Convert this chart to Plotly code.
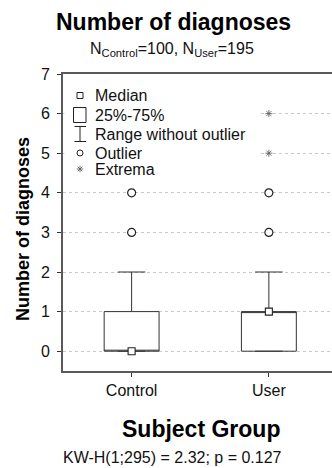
import math
import plotly.graph_objects as go

# ---- data ----
categories = ["Control", "User"]
q1 = [0, 0]
medians = [0, 1]
q3 = [1, 1]
lower_fence = [0, 0]
upper_fence = [2, 2]
outlier_x = ["Control", "Control", "User", "User"]
outlier_y = [3, 4, 3, 4]
extrema_x = ["User", "User"]
extrema_y = [5, 6]
y_ticks = [0, 1, 2, 3, 4, 5, 6, 7]
legend_labels = ["Median", "25%-75%", "Range without outlier", "Outlier", "Extrema"]

W, H = 332, 468
L, R, T, B = 63, 0, 74, 97
PW, PH = W - L - R, H - T - B
FONT = "Liberation Sans, Arial, sans-serif"


def px(x):
    return (x - L) / PW


def py(y):
    return (H - B - y) / PH


fig = go.Figure()

fig.add_trace(go.Box(
    x=categories, q1=q1, median=medians, q3=q3,
    lowerfence=lower_fence, upperfence=upper_fence,
    width=0.4, whiskerwidth=0.5, boxpoints=False,
    fillcolor="white", line=dict(color="#333333", width=1),
    showlegend=False, hoverinfo="skip",
))
fig.add_trace(go.Scatter(
    x=categories, y=medians, mode="markers", showlegend=False,
    marker=dict(symbol="square", size=7, color="white",
                line=dict(color="#222222", width=1.1)),
))
fig.add_trace(go.Scatter(
    x=outlier_x, y=outlier_y, mode="markers", showlegend=False,
    marker=dict(symbol="circle", size=8, color="white",
                line=dict(color="#222222", width=1.2)),
))
fig.add_trace(go.Scatter(
    x=extrema_x, y=extrema_y, mode="markers", showlegend=False,
    marker=dict(symbol="asterisk-open", size=6, color="#555555",
                line=dict(color="#555555", width=0.8)),
))

shapes = []
# legend background
shapes.append(dict(type="rect", xref="paper", yref="paper",
                   x0=px(64.5), x1=px(259), y0=py(84), y1=py(180),
                   fillcolor="white", line=dict(width=0), layer="above"))
lc = dict(color="#222222", width=1)
# median square
shapes.append(dict(type="rect", xref="paper", yref="paper",
                   x0=px(77), x1=px(83), y0=py(92.5), y1=py(98.5),
                   fillcolor="white", line=lc, layer="above"))
# box symbol
shapes.append(dict(type="rect", xref="paper", yref="paper",
                   x0=px(73.5), x1=px(86), y0=py(107.5), y1=py(122.5),
                   fillcolor="white", line=lc, layer="above"))
# range I-beam
shapes.append(dict(type="line", xref="paper", yref="paper",
                   x0=px(80), x1=px(80), y0=py(126.5), y1=py(141.5), line=lc, layer="above"))
shapes.append(dict(type="line", xref="paper", yref="paper",
                   x0=px(74.5), x1=px(86), y0=py(126.5), y1=py(126.5), line=lc, layer="above"))
shapes.append(dict(type="line", xref="paper", yref="paper",
                   x0=px(74.5), x1=px(86), y0=py(141.5), y1=py(141.5), line=lc, layer="above"))
# outlier circle
shapes.append(dict(type="circle", xref="paper", yref="paper",
                   x0=px(77), x1=px(83), y0=py(150), y1=py(156),
                   fillcolor="white", line=lc, layer="above"))
# extrema asterisk in legend
cx, cy, rr = 80, 169, 3.2
for ang in (0, 45, 90, 135):
    dx = rr * math.cos(math.radians(ang))
    dy = rr * math.sin(math.radians(ang))
    shapes.append(dict(type="line", xref="paper", yref="paper",
                       x0=px(cx - dx), x1=px(cx + dx), y0=py(cy - dy), y1=py(cy + dy),
                       line=dict(color="#555555", width=0.8), layer="above"))
fig.update_layout(shapes=shapes)

annotations = []
leg_y = [95.5, 115, 134.5, 153, 169.5]
for lab, yy in zip(legend_labels, leg_y):
    annotations.append(dict(text=lab, xref="paper", yref="paper", x=px(92.5), y=py(yy),
                            xanchor="left", yanchor="middle", showarrow=False,
                            font=dict(family=FONT, size=16, color="#111111")))
annotations += [
    dict(text="<b>Number of diagnoses</b>", xref="paper", yref="paper",
         x=px(173.5), y=py(22), xanchor="center", yanchor="middle", showarrow=False,
         font=dict(family=FONT, size=23, color="black")),
    dict(text="N<sub>Control</sub>=100, N<sub>User</sub>=195", xref="paper", yref="paper",
         x=px(172), y=py(50), xanchor="center", yanchor="middle", showarrow=False,
         font=dict(family=FONT, size=16, color="#111111")),
    dict(text="<b>Subject Group</b>", xref="paper", yref="paper",
         x=px(201), y=py(429), xanchor="center", yanchor="middle", showarrow=False,
         font=dict(family=FONT, size=23, color="black")),
    dict(text="KW-H(1;295) = 2.32; p = 0.127", xref="paper", yref="paper",
         x=px(172.5), y=py(457), xanchor="center", yanchor="middle", showarrow=False,
         font=dict(family=FONT, size=16, color="#111111")),
    dict(text="<b>Number of diagnoses</b>", xref="paper", yref="paper",
         x=px(23), y=py(229), xanchor="center", yanchor="middle", showarrow=False,
         textangle=-90, font=dict(family=FONT, size=18, color="black")),
]
fig.update_layout(annotations=annotations)

fig.update_layout(
    width=W, height=H,
    margin=dict(l=L, r=R, t=T, b=B, pad=0),
    paper_bgcolor="white", plot_bgcolor="white",
    showlegend=False,
    font=dict(family=FONT, size=16, color="#111111"),
)
fig.update_xaxes(
    type="category", categoryorder="array", categoryarray=categories,
    range=[-0.5, 1.46], showgrid=False, zeroline=False,
    showline=True, linecolor="#5a5a5a", linewidth=2, mirror=True,
    ticks="outside", ticklen=4, tickcolor="#333333", tickwidth=1,
    tickfont=dict(family=FONT, size=16, color="#111111"),
    fixedrange=True,
)
fig.update_yaxes(
    range=[-0.5, 7], tickvals=y_ticks, ticktext=[str(v) for v in y_ticks],
    showgrid=True, gridcolor="#c8c8c8", gridwidth=1, griddash="dot",
    zeroline=False, showline=True, linecolor="#5a5a5a", linewidth=2,
    ticks="outside", ticklen=4, tickcolor="#333333", tickwidth=1,
    tickfont=dict(family=FONT, size=16, color="#111111"),
    ticklabelstandoff=4, fixedrange=True,
)

fig.write_html("out.html")
